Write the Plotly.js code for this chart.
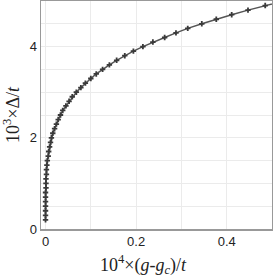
<!DOCTYPE html>
<html>
<head>
<meta charset="utf-8">
<script src="https://cdn.plot.ly/plotly-3.0.1.min.js"></script>
<style>html,body{margin:0;padding:0;background:#fff;}#chart{width:273px;height:276px;}</style>
</head>
<body>
<div id="chart"></div>
<script>
// 10^3 x Delta/t (y) versus 10^4 x (g-gc)/t (x)
const gapValues = [0.2,0.3,0.4,0.5,0.6,0.7,0.8,0.9,1.0,1.1,1.2,1.3,1.4,1.5,1.6,1.7,1.8,1.9,2.0,2.1,2.2,2.3,2.4,2.5,2.6,2.7,2.8,2.9,3.0,3.1,3.2,3.3,3.4,3.5,3.6,3.7,3.8,3.9,4.0,4.1,4.2,4.3,4.4,4.5,4.6,4.7,4.8,4.9,5.0];
const couplingValues = [0.000,0.000,0.000,0.000,0.000,0.000,0.000,0.001,0.001,0.001,0.002,0.002,0.003,0.004,0.006,0.007,0.009,0.011,0.013,0.016,0.020,0.024,0.028,0.033,0.038,0.045,0.052,0.059,0.068,0.078,0.088,0.100,0.112,0.126,0.141,0.157,0.175,0.194,0.215,0.237,0.263,0.288,0.314,0.345,0.377,0.411,0.447,0.485,0.525];
const xTickVals = [0, 0.2, 0.4];
const xTickText = ["0", "0.2", "0.4"];
const yTickVals = [0, 2, 4];
const yTickText = ["0", "2", "4"];
const xTitle = '10<sup>4</sup>×(<i>g</i>-<i>g</i><sub><i>c</i></sub>)/<i>t</i>';
const yTitle = '10<sup>3</sup>×Δ/<i>t</i>';

const trace = {
  x: couplingValues,
  y: gapValues,
  mode: 'lines+markers',
  type: 'scatter',
  line: {color: '#555555', width: 1.5},
  marker: {symbol: 'cross', size: 4.5, color: '#3a3a3a'},
  cliponaxis: true,
  showlegend: false
};

const axisCommon = {
  showline: true, mirror: true, linecolor: '#999999', linewidth: 1.5,
  showgrid: true, gridcolor: '#ebebeb', gridwidth: 1,
  zeroline: false, ticks: '',
  tickfont: {family: 'Liberation Sans, Arial, sans-serif', size: 13, color: '#222'}
};

const layout = {
  width: 273, height: 276,
  margin: {l: 41, r: 1, t: 1, b: 47},
  paper_bgcolor: '#fff', plot_bgcolor: '#fff',
  xaxis: Object.assign({}, axisCommon, {
    range: [-0.01, 0.5],
    tickmode: 'array', tickvals: xTickVals, ticktext: xTickText,
    minor: {dtick: 0.1, showgrid: true, gridcolor: '#ebebeb', gridwidth: 1, ticks: ''}
  }),
  yaxis: Object.assign({}, axisCommon, {
    range: [0, 5],
    tickmode: 'array', tickvals: yTickVals, ticktext: yTickText,
    minor: {dtick: 0.5, showgrid: true, gridcolor: '#ebebeb', gridwidth: 1, ticks: ''},
    title: {text: yTitle, standoff: 8,
      font: {family: 'Liberation Serif, Times New Roman, serif', size: 18, color: '#222'}}
  }),
  annotations: [{
    text: xTitle, xref: 'paper', yref: 'paper',
    x: 0.4416, y: -0.155, xanchor: 'center', yanchor: 'middle', showarrow: false,
    font: {family: 'Liberation Serif, Times New Roman, serif', size: 18, color: '#222'}
  }]
};

Plotly.newPlot('chart', [trace], layout, {displayModeBar: false, staticPlot: true});
</script>
</body>
</html>
